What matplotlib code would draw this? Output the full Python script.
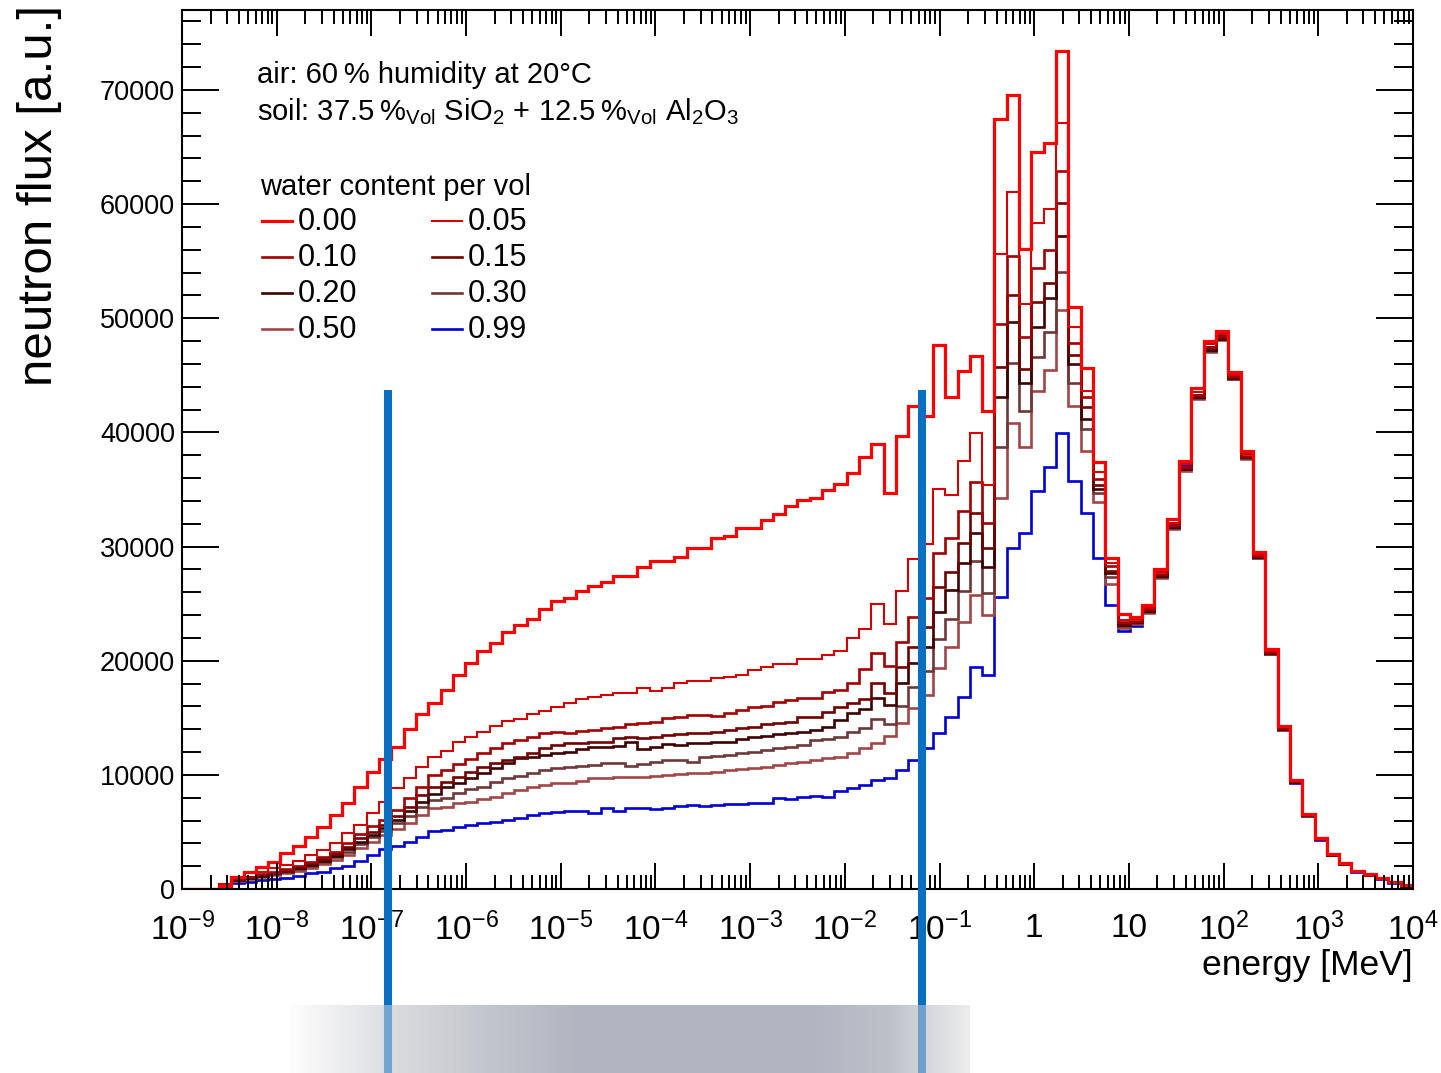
import numpy as np
import matplotlib
matplotlib.use("Agg")
import matplotlib.pyplot as plt
from matplotlib.lines import Line2D
from matplotlib.colors import LinearSegmentedColormap
import matplotlib.transforms as mtransforms
from matplotlib.ticker import LogLocator, NullFormatter

plt.rcParams['font.family'] = ['Liberation Sans', 'DejaVu Sans']
plt.rcParams['mathtext.fontset'] = 'custom'
plt.rcParams['mathtext.rm'] = 'Liberation Sans'
plt.rcParams['mathtext.it'] = 'Liberation Sans:italic'
plt.rcParams['mathtext.bf'] = 'Liberation Sans:bold'
plt.rcParams['mathtext.default'] = 'rm'

# 100 logarithmic energy bins from 1e-9 to 1e4 MeV
edges = np.logspace(-9, 4, 101)

# neutron flux per bin [a.u.] for each soil water content
flux_000 = [0, 0, 0, 300, 1020, 1520, 1900, 2400, 3130, 3770,
            4590, 5400, 6450, 7560, 8930, 10230, 11390, 12450, 13990, 15300,
            16320, 17450, 18750, 19770, 20880, 21580, 22540, 23130, 23630, 24500,
            25260, 25470, 26140, 26570, 26870, 27450, 27450, 28240, 28760, 28760,
            29110, 29850, 29900, 30720, 30930, 31600, 31600, 32330, 32820, 33550,
            34080, 34230, 34960, 35480, 36470, 37820, 38990, 34730, 39710, 42310,
            41440, 47660, 43070, 45410, 46700, 41880, 67430, 69530, 56040, 64570,
            65330, 73440, 51010, 45600, 37400, 29000, 24100, 23870, 24840, 27990,
            32400, 37500, 43900, 47990, 48870, 45300, 38410, 29550, 21040, 14290,
            9580, 6560, 4480, 3080, 2270, 1620, 1300, 970, 650, 320]
flux_005 = [0, 0, 0, 450, 1080, 1370, 1520, 1810, 2100, 2480,
            2980, 3420, 4000, 4880, 5610, 6630, 7650, 8820, 9700, 10720,
            11600, 12120, 12910, 13350, 13790, 14300, 14720, 14870, 15330, 15620,
            15970, 16320, 16610, 16780, 16990, 17130, 17190, 17570, 17370, 17630,
            18080, 18220, 18220, 18470, 18590, 18760, 19200, 19490, 19700, 19700,
            20160, 20160, 20510, 20860, 21970, 22790, 24950, 23200, 26100, 28900,
            30200, 35000, 34520, 37520, 39980, 35350, 55630, 61090, 51250, 58320,
            59550, 67080, 49260, 43600, 36500, 28600, 23600, 23650, 24600, 27750,
            32100, 37200, 43500, 47700, 48600, 45050, 38100, 29300, 20850, 14150,
            9480, 6500, 4430, 3050, 2240, 1600, 1280, 955, 640, 315]
flux_010 = [0, 0, 0, 350, 940, 1080, 1320, 1520, 1720, 2015,
            2395, 2830, 3270, 4000, 4820, 5520, 6050, 6920, 7940, 8970,
            9990, 10430, 10955, 11360, 11890, 12330, 12820, 13060, 13350, 13640,
            13760, 13640, 13840, 13930, 14080, 14220, 14460, 14515, 14660, 14950,
            15100, 15250, 15250, 15190, 15450, 15680, 15920, 16040, 16420, 16560,
            16710, 16710, 17290, 17440, 18020, 19250, 20710, 19540, 21670, 23860,
            25470, 29470, 30720, 33150, 35690, 32040, 49490, 55460, 48330, 54380,
            55980, 62930, 47810, 43100, 35900, 28300, 23400, 23500, 24500, 27600,
            31900, 37000, 43300, 47500, 48400, 44900, 37950, 29200, 20750, 14100,
            9450, 6470, 4410, 3030, 2230, 1590, 1270, 950, 635, 310]
flux_015 = [0, 0, 0, 290, 840, 1020, 1230, 1430, 1610, 1900,
            2250, 2630, 3070, 3710, 4440, 5020, 5610, 6400, 7210, 8240,
            8970, 9410, 9840, 10280, 10720, 11070, 11300, 11600, 11890, 12330,
            12620, 12820, 12820, 12910, 12910, 13200, 13350, 13200, 13350, 13490,
            13600, 13640, 13640, 13790, 13930, 14080, 14225, 14460, 14580, 14660,
            15100, 15100, 15540, 15900, 16270, 16620, 18020, 17200, 19480, 21230,
            22930, 26490, 27800, 30280, 32910, 29850, 45690, 52050, 45530, 51450,
            53060, 60070, 46780, 42200, 35400, 27900, 23200, 23400, 24400, 27500,
            31800, 36900, 43200, 47350, 48300, 44800, 37850, 29150, 20700, 14050,
            9420, 6450, 4400, 3020, 2220, 1585, 1265, 945, 630, 310]
flux_020 = [0, 0, 0, 260, 790, 990, 1170, 1370, 1550, 1810,
            2130, 2480, 2890, 3475, 4150, 4730, 5310, 6050, 6860, 7650,
            8340, 8970, 9320, 9700, 10140, 10570, 11010, 11450, 11600, 11740,
            11890, 12035, 12240, 12410, 12470, 12560, 12850, 12270, 12470, 12680,
            12650, 12765, 12765, 12910, 12910, 13120, 13350, 13410, 13580, 13700,
            13790, 13930, 14170, 14810, 15390, 15740, 16710, 16120, 18020, 19770,
            21230, 24300, 26200, 28590, 31160, 28240, 43120, 49700, 44300, 49260,
            51750, 57210, 45970, 41200, 35000, 27700, 23100, 23350, 24350, 27400,
            31700, 36800, 43100, 47250, 48200, 44750, 37800, 29100, 20650, 14000,
            9400, 6440, 4390, 3010, 2215, 1580, 1260, 940, 630, 305]
flux_030 = [0, 0, 0, 230, 760, 940, 1110, 1290, 1490, 1720,
            2015, 2365, 2770, 3270, 3940, 4530, 5110, 5750, 6400, 7210,
            7830, 7950, 8380, 8735, 8970, 9410, 9700, 9900, 10200, 10430,
            10570, 10660, 10780, 10870, 11070, 11010, 10780, 10950, 11160, 11300,
            11300, 11160, 11540, 11655, 11740, 11890, 12035, 12180, 12330, 12410,
            12620, 13060, 13120, 13350, 13790, 14080, 14870, 14460, 16040, 17730,
            19130, 21870, 23630, 26140, 28770, 25960, 38740, 46060, 41900, 46630,
            48830, 54030, 44360, 40300, 34700, 27300, 23000, 23300, 24300, 27350,
            31650, 36750, 43000, 47150, 48150, 44700, 37750, 29050, 20600, 13980,
            9380, 6430, 4380, 3005, 2210, 1575, 1255, 940, 625, 305]
flux_050 = [0, 0, 0, 200, 700, 870, 1020, 1200, 1370, 1610,
            1870, 2190, 2540, 2980, 3560, 4150, 4730, 5230, 5750, 6480,
            7070, 7215, 7510, 7650, 7860, 8090, 8380, 8680, 8970, 9120,
            9260, 9320, 9500, 9700, 9700, 9790, 9790, 9790, 9900, 9990,
            10060, 10140, 10140, 10280, 10430, 10490, 10575, 10720, 10870, 11010,
            11160, 11300, 11450, 11600, 11950, 12330, 12820, 13410, 14520, 15830,
            16960, 19330, 21230, 23420, 25760, 24010, 34230, 40800, 38750, 43660,
            45470, 50730, 42320, 38400, 33900, 26700, 22900, 23200, 24200, 27250,
            31550, 36650, 42900, 47050, 48050, 44650, 37700, 29000, 20550, 13950,
            9360, 6420, 4370, 3000, 2200, 1570, 1250, 935, 620, 300]
flux_099 = [0, 0, 0, 200, 500, 640, 790, 840, 940, 1140,
            1370, 1520, 1810, 2015, 2480, 2980, 3475, 3770, 4150, 4590,
            5110, 5170, 5460, 5610, 5815, 5900, 6050, 6190, 6490, 6630,
            6780, 6870, 6870, 6690, 7070, 6870, 7070, 7070, 6980, 7070,
            7260, 7360, 7275, 7360, 7450, 7450, 7510, 7570, 7950, 7860,
            8040, 8150, 8090, 8620, 8820, 9115, 9550, 9700, 10430, 11305,
            12330, 13640, 15040, 16850, 19420, 18720, 25560, 29900, 31160, 34900,
            36940, 39980, 35750, 32900, 29000, 24900, 22600, 23000, 24300, 27450,
            31900, 37180, 43300, 47500, 48400, 45300, 37800, 29000, 20550, 13950,
            9300, 6400, 4300, 2950, 2150, 1500, 1200, 900, 560, 250]

water_labels = ['0.00', '0.05', '0.10', '0.15', '0.20', '0.30', '0.50', '0.99']
series = [flux_000, flux_005, flux_010, flux_015, flux_020, flux_030, flux_050, flux_099]
colors = ['#ff0000', '#d40000', '#a00000', '#700000', '#3c0000', '#6e3838', '#a04646', '#0000d0']
widths = [2.3, 1.5, 1.9, 1.9, 1.9, 1.9, 1.9, 1.9]

# energy window marks [MeV]
window = [1.5e-7, 0.065]

W, H = 1441, 1073

def fx(px):
    return px / W

def fy(py):
    return 1 - py / H

fig = plt.figure(figsize=(W / 100, H / 100), dpi=100)
ax = fig.add_axes([fx(182), fy(889), 1231 / W, 879 / H])

# wettest first so that the dry spectrum lies on top
for vals, c, lw in list(zip(series, colors, widths))[::-1]:
    ax.stairs(vals, edges, baseline=None, color=c, lw=lw)

ax.set_xscale('log')
ax.set_xlim(1e-9, 1e4)
ax.set_ylim(0, 77000)

decades = np.arange(-9, 5)
xlabels = []
for d in decades:
    if d == 0:
        xlabels.append('1')
    elif d == 1:
        xlabels.append('10')
    else:
        xlabels.append(r'$10^{%d}$' % d)
ax.set_xticks(10.0 ** decades)
ax.set_xticklabels(xlabels)
ax.xaxis.set_minor_locator(LogLocator(base=10, subs=np.arange(2, 10), numticks=200))
ax.xaxis.set_minor_formatter(NullFormatter())

ax.set_yticks(np.arange(0, 70001, 10000))
ax.set_yticklabels([str(v) for v in range(0, 70001, 10000)])
ax.set_yticks(np.arange(0, 77000, 2000), minor=True)

ax.tick_params(axis='x', which='major', direction='in', length=19, width=1.4,
               top=True, labelsize=24, pad=17)
ax.tick_params(axis='x', which='minor', direction='in', length=10, width=1.4, top=True)
ax.tick_params(axis='y', which='major', direction='in', length=26.5, width=1.4,
               right=True, labelsize=19.5, pad=5)
ax.tick_params(axis='y', which='minor', direction='in', length=13.5, width=1.4, right=True)
for sp in ax.spines.values():
    sp.set_linewidth(1.5)

fig.text(fx(40), fy(5), 'neutron flux [a.u.]', rotation=90, ha='center', va='top',
         fontsize=35.5)
fig.text(fx(1413), fy(965), 'energy [MeV]', ha='right', va='center', fontsize=25.5)

# sample description
fig.text(fx(257), fy(75), 'air: 60\u2009% humidity at 20\u00b0C', ha='left', va='center',
         fontsize=21)
fig.text(fx(257), fy(112),
         r'soil: 37.5' + '\u2009' + r'%$_{\rm Vol}$ SiO$_2$ + 12.5' + '\u2009'
         + r'%$_{\rm Vol}$ Al$_2$O$_3$',
         ha='left', va='center', fontsize=21)

# legend
fig.text(fx(260), fy(187), 'water content per vol', ha='left', va='center', fontsize=21)
col_x = [262, 432]
row_y = [221, 257, 293, 329]
for i, (lab, c, lw) in enumerate(zip(water_labels, colors, widths)):
    x0 = col_x[i % 2]
    y0 = row_y[i // 2]
    fig.add_artist(Line2D([fx(x0), fx(x0 + 30)], [fy(y0), fy(y0)], color=c, lw=lw,
                          transform=fig.transFigure))
    fig.text(fx(x0 + 36), fy(y0 + 1), lab, ha='left', va='center', fontsize=22)

# shaded band below the axis
band = fig.add_axes([fx(290), 0, 680 / W, 68 / H])
band_cmap = LinearSegmentedColormap.from_list('band', [
    (0.00, '#fdfdfd'), (0.05, '#f2f2f3'), (0.16, '#d8dade'), (0.30, '#c2c4cc'),
    (0.42, '#b2b5c1'), (0.78, '#b3b6c2'), (0.88, '#bec0c9'), (0.95, '#d9dadf'),
    (1.00, '#ececec')])
band.imshow(np.linspace(0, 1, 400)[None, :], aspect='auto', cmap=band_cmap,
            extent=[0, 1, 0, 1])
band.set_axis_off()

# vertical window marks running from the plot down through the band
blend = mtransforms.blended_transform_factory(ax.transData, fig.transFigure)
for e in window:
    fig.add_artist(Line2D([e, e], [fy(1005), fy(390)], color='#0a6fc0', lw=5.8,
                          solid_capstyle='butt', transform=blend, zorder=5))
    fig.add_artist(Line2D([e, e], [0, fy(1005)], color='#0a6fc0', lw=5.8, alpha=0.5,
                          solid_capstyle='butt', transform=blend, zorder=5))

fig.savefig('out.png', dpi=100)
